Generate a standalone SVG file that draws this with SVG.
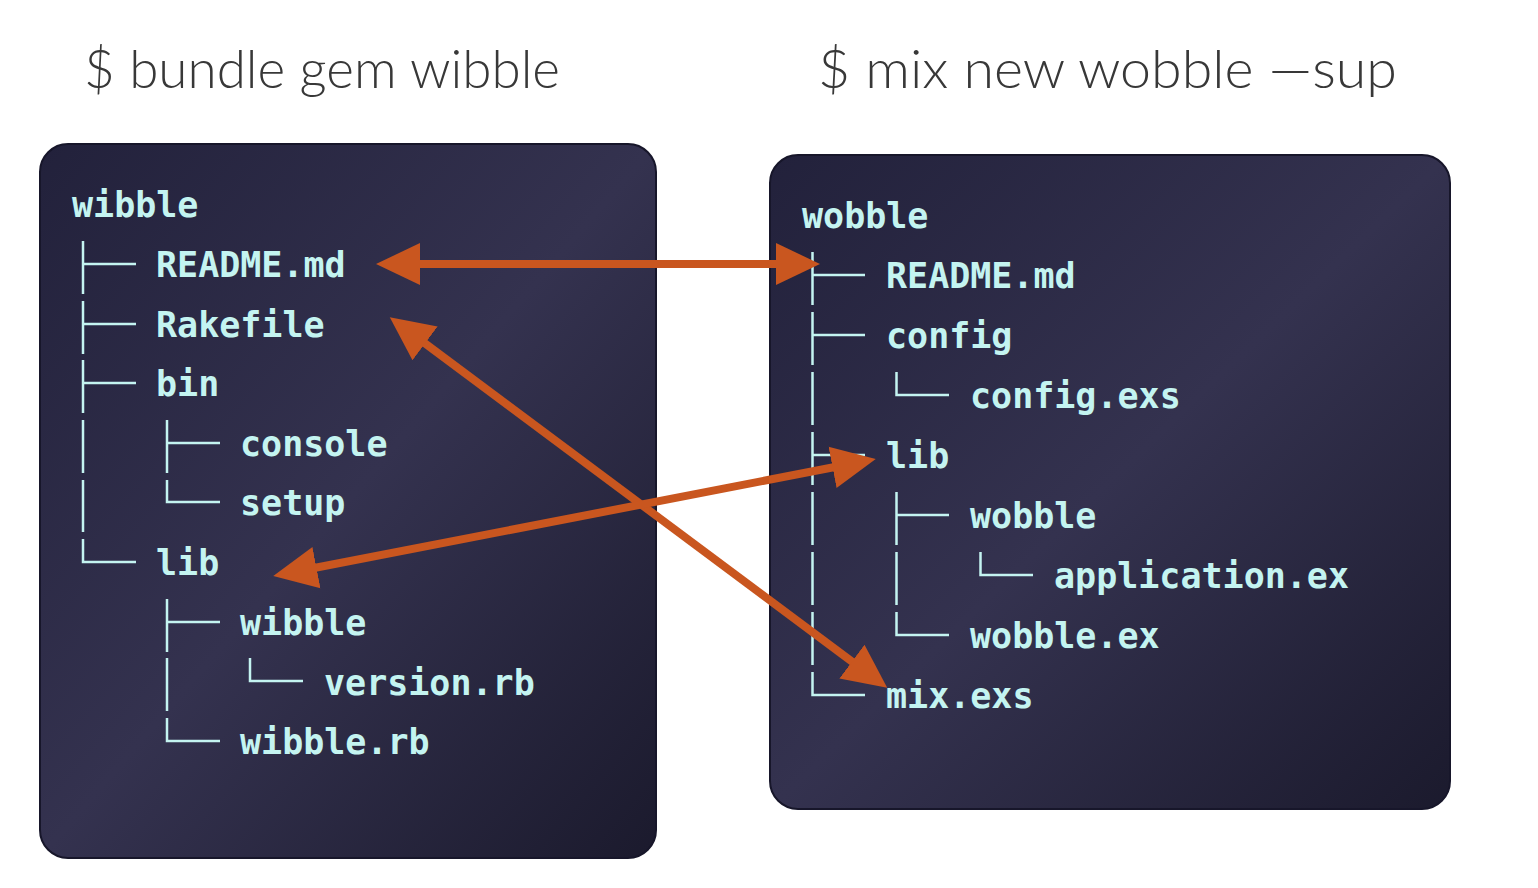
<svg xmlns="http://www.w3.org/2000/svg" width="1538" height="888" viewBox="0 0 1538 888">
  <defs>
    <linearGradient id="panelGrad" x1="0" y1="0" x2="1" y2="1">
      <stop offset="0" stop-color="#22213b"/>
      <stop offset="0.5" stop-color="#34324f"/>
      <stop offset="1" stop-color="#1b1a2d"/>
    </linearGradient>
    <marker id="head" markerUnits="userSpaceOnUse" markerWidth="44" markerHeight="44" viewBox="0 0 44 44" refX="30" refY="22" orient="auto-start-reverse">
      <path d="M0,1 L44,22 L0,43 Z" fill="#c9561f"/>
    </marker>
    <style>
      .title { font-family: "Lato", "Open Sans", "Liberation Sans", sans-serif; font-weight: 300; font-size: 53px; fill: #383838; }
      .panel { fill: url(#panelGrad); stroke: #17162a; stroke-width: 2; }
      .code { font-family: "DejaVu Sans Mono", "Liberation Mono", monospace; font-weight: bold; font-size: 35px; fill: #c4f4f1; }
      .tree { stroke: #c4f4f1; stroke-width: 2.5; fill: none; }
      .arrow { stroke: #c9561f; stroke-width: 8; fill: none; marker-start: url(#head); marker-end: url(#head); }
    </style>
  </defs>
  <rect width="1538" height="888" fill="#ffffff"/>

  <g id="titles">
    <text class="title" x="84" y="88" textLength="476" lengthAdjust="spacingAndGlyphs">$ bundle gem wibble</text>
    <text class="title" x="818" y="88" textLength="579" lengthAdjust="spacingAndGlyphs">$ mix new wobble —sup</text>
  </g>

  <g id="panel-wibble">
    <rect class="panel" x="40" y="144" width="616" height="714" rx="28"/>
    <g class="tree-lines">
      <path class="tree" d="M83,241 V294 M83,264 H136 M83,301 V354 M83,324 H136 M83,360 V413 M83,383 H136 M83,420 V473 M83,480 V532 M83,539 V562 H136"/>
      <path class="tree" d="M167,420 V473 M167,443 H220 M167,480 V502 H220"/>
      <path class="tree" d="M167,599 V652 M167,622 H220 M167,658 V711 M167,718 V741 H220"/>
      <path class="tree" d="M250,658 V681 H303"/>
    </g>
    <text class="code" x="72" y="217">wibble</text>
    <text class="code" x="156" y="277">README.md</text>
    <text class="code" x="156" y="337">Rakefile</text>
    <text class="code" x="156" y="396">bin</text>
    <text class="code" x="240" y="456">console</text>
    <text class="code" x="240" y="515">setup</text>
    <text class="code" x="156" y="575">lib</text>
    <text class="code" x="240" y="635">wibble</text>
    <text class="code" x="324" y="695">version.rb</text>
    <text class="code" x="240" y="754">wibble.rb</text>
  </g>

  <g id="panel-wobble">
    <rect class="panel" x="770" y="155" width="680" height="654" rx="28"/>
    <g class="tree-lines">
      <path class="tree" d="M812.5,252 V305 M812.5,275 H865 M812.5,312 V365 M812.5,335 H865 M812.5,372 V425 M812.5,432 V485 M812.5,455 H865 M812.5,492 V545 M812.5,552 V605 M812.5,612 V665 M812.5,672 V695 H865"/>
      <path class="tree" d="M896.5,372 V395 H949"/>
      <path class="tree" d="M896.5,492 V545 M896.5,515 H949 M896.5,552 V605 M896.5,612 V635 H949"/>
      <path class="tree" d="M980.5,552 V575 H1033"/>
    </g>
    <text class="code" x="802" y="228">wobble</text>
    <text class="code" x="886" y="288">README.md</text>
    <text class="code" x="886" y="348">config</text>
    <text class="code" x="970" y="408">config.exs</text>
    <text class="code" x="886" y="468">lib</text>
    <text class="code" x="970" y="528">wobble</text>
    <text class="code" x="1054" y="588">application.ex</text>
    <text class="code" x="970" y="648">wobble.ex</text>
    <text class="code" x="886" y="708">mix.exs</text>
  </g>

  <g id="connectors">
    <line class="arrow" x1="390" y1="264" x2="806" y2="264"/>
    <line class="arrow" x1="401" y1="325.5" x2="876" y2="679.5"/>
    <line class="arrow" x1="862" y1="461.7" x2="287" y2="573.3"/>
  </g>
</svg>
